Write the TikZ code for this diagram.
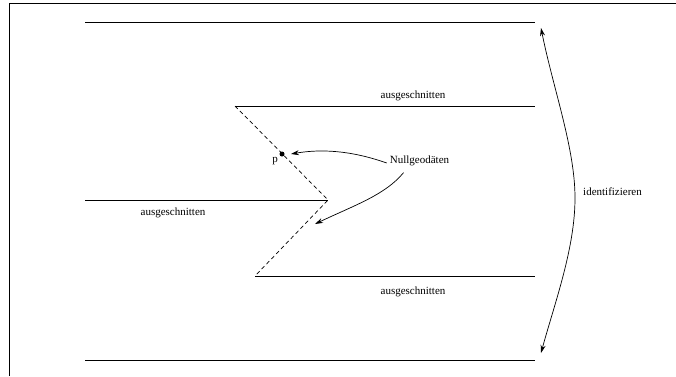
\documentclass[tikz,border=0pt]{standalone}
\usepackage{fontspec}
\setmainfont{Liberation Serif}
\usetikzlibrary{arrows.meta,calc}
\tikzset{
  solidline/.style={line width=0.8pt},
  dashline/.style={line width=0.7pt, dash pattern=on 4pt off 3pt},
  lbl/.style={inner sep=0pt, font=\fontsize{11}{13}\selectfont},
  arr/.style={line width=0.7pt, -{Stealth[length=8pt,width=5pt]}},
  darr/.style={line width=0.7pt, {Stealth[length=8pt,width=5pt]}-{Stealth[length=8pt,width=5pt]}},
}
\begin{document}
\begin{tikzpicture}[x=1pt,y=-1pt]
\useasboundingbox (0,0) rectangle (676,376);
% frame
\coordinate (fb) at (9,376);
\coordinate (fc) at (9,3);
\coordinate (fr) at (676,3);
\draw[solidline] (fb) -- (fc) -- (fr);
% coordinates
\coordinate (t1) at (85,22);
\coordinate (t2) at (535,22);
\coordinate (b1) at (85,360);
\coordinate (b2) at (535,360);
\coordinate (m1) at (85,200);
\coordinate (v) at (328,200);
\coordinate (u1) at (235,106);
\coordinate (u2) at (535,106);
\coordinate (l1) at (255,276);
\coordinate (l2) at (535,276);
\draw[solidline] (t1) -- (t2);
\draw[solidline] (b1) -- (b2);
\draw[solidline] (m1) -- (v);
\draw[solidline] (u1) -- (u2);
\draw[solidline] (l1) -- (l2);
\draw[dashline] (u1) -- (v) -- (l1);
% point p
\node[circle, fill, inner sep=0pt, minimum size=5pt] (p) at (282,154) {};
\node[lbl] (plbl) at (275,161) {p};
% labels
\node[lbl] (a1) at (413,96) {ausgeschnitten};
\node[lbl] (a2) at (173,213) {ausgeschnitten};
\node[lbl] (a3) at (413,292) {ausgeschnitten};
\node[lbl] (ng) at (419.5,160.5) {Nullgeodäten};
\node[lbl, anchor=west] (id) at (583,192) {identifizieren};
% arrows
\coordinate (g2) at (315,224);
\draw[arr] ([xshift=-3pt,yshift=-2.5pt]ng.west) .. controls (350,150) and (320,149) .. ([xshift=9pt]p.center);
\draw[arr] ($(ng.south)+(-16,7)$) .. controls (385,195) and (355,205) .. (g2);
\coordinate (i1) at (541,28);
\coordinate (im) at (575,198);
\coordinate (i2) at (541,353);
\draw[darr] (i1) .. controls (553,88) and (575,148) .. (im) .. controls (575,248) and (555,302) .. (i2);
\end{tikzpicture}
\end{document}
